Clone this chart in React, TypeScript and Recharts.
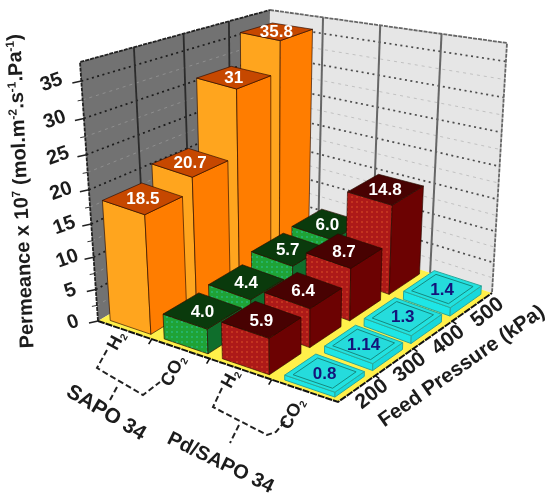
import { ScatterChart, Scatter, XAxis, YAxis } from 'recharts';

const WIDTH = 550;
const HEIGHT = 500;

const PRESSURES = [200, 300, 400, 500];
const H2_SAPO = [18.5, 20.7, 31, 35.8];
const CO2_SAPO = [4.0, 4.4, 5.7, 6.0];
const H2_PD = [5.9, 6.4, 8.7, 14.8];
const CO2_PD = [0.8, 1.14, 1.3, 1.4];
const VALUE_TICKS = [0, 5, 10, 15, 20, 25, 30, 35];
const MINOR_TICKS = [2.5, 7.5, 12.5, 17.5, 22.5, 27.5, 32.5, 37.5];
const WALL_TOP = 37.5;

const STYLES = [
  { left: '#ffa51e', right: '#ff7d00', top: '#c64800', text: '#fff', dots: 'none', digits: -1 },
  { left: '#1fa336', right: '#0f6e2c', top: '#0a3a0c', text: '#fff', dots: 'url(#dotsGreen)', digits: 1 },
  { left: '#ad1a18', right: '#6c0202', top: '#480202', text: '#fff', dots: 'url(#dotsRed)', digits: -1 },
  { left: '#1ee6e6', right: '#18d8dc', top: '#22e2e0', text: '#14147a', dots: 'none', digits: -1 },
];
const SERIES = [H2_SAPO, CO2_SAPO, H2_PD, CO2_PD];

// corners of the box: floor and top of wall
const FLOOR = { a: [98, 321], b: [338, 402], c: [492, 293], d: [268, 220] };
const ROOF = { a: [80, 62], b: [342, 150], c: [507, 43], d: [270, 10] };

const lerp = (p: number, q: number, t: number) => p + (q - p) * t;

// u: along the materials, v: along the pressures, h: value
function project(u: number, v: number, h: number): [number, number] {
  const uu = u - 0.14 * u * (1 - u);
  const k = 0.18 * (1 - uu) - 0.04 * uu;
  const vv = v + k * v * (1 - v);
  const t = h / WALL_TOP;
  const g = t / (1 + 0.114 * (1 - t));
  const corner = (key: 'a' | 'b' | 'c' | 'd', i: number) => lerp(FLOOR[key][i], ROOF[key][i], g);
  const at = (i: number) =>
    lerp(lerp(corner('a', i), corner('b', i), uu), lerp(corner('d', i), corner('c', i), uu), vv);
  return [at(0), at(1)];
}

const pts = (list: [number, number][]) => list.map((p) => p.join(',')).join(' ');

const barData = SERIES.flatMap((values, s) =>
  values.map((value, p) => {
    const [x, y] = project((s + 0.5) / 4, (p + 0.5) / 4, 0);
    return { x, y, s, p, value };
  })
).sort((m, n) => m.s - m.p - (n.s - n.p));

const tickData = VALUE_TICKS.map((value) => {
  const [x, y] = project(0, 0, value);
  return { x, y, value };
});
const pressureData = PRESSURES.map((value, p) => {
  const [x, y] = project(1, (p + 0.5) / 4, 0);
  return { x, y, value };
});
const wallData = [{ x: FLOOR.a[0], y: FLOOR.a[1] }];

function Walls() {
  const line = (fn: (i: number) => [number, number]) => pts([0, 0.25, 0.5, 0.75, 1].map(fn));
  return (
    <g>
      <polygon
        points={pts([project(0, 0, 0), project(0, 1, 0), project(0, 1, WALL_TOP), project(0, 0, WALL_TOP)])}
        fill="#727272"
      />
      <polygon
        points={pts([project(0, 1, 0), project(1, 1, 0), project(1, 1, WALL_TOP), project(0, 1, WALL_TOP)])}
        fill="#e6e6e6"
      />
      <polygon
        points={pts([project(0, 0, 0), project(1, 0, 0), project(1, 1, 0), project(0, 1, 0)])}
        fill="#fff04a"
      />
      {MINOR_TICKS.slice(0, -1).map((h) => (
        <g key={h} fill="none" strokeDasharray="3 4">
          <polyline points={line((v) => project(0, v, h))} stroke="#959595" strokeWidth={0.8} />
          <polyline points={line((u) => project(u, 1, h))} stroke="#b8b8b8" strokeWidth={0.8} />
          <line
            x1={project(0, 0, h)[0]} y1={project(0, 0, h)[1]}
            x2={project(0, 0, h)[0] - 5} y2={project(0, 0, h)[1] + 1}
            stroke="#333" strokeWidth={1} strokeDasharray="none"
          />
        </g>
      ))}
      {VALUE_TICKS.slice(1).map((h) => (
        <g key={h} fill="none" strokeDasharray="2 3.5">
          <polyline points={line((v) => project(0, v, h))} stroke="#1c1c1c" strokeWidth={1.7} />
          <polyline points={line((u) => project(u, 1, h))} stroke="#4c4c4c" strokeWidth={1.7} />
        </g>
      ))}
      {[0.25, 0.5, 0.75].map((f) => (
        <g key={f}>
          <line
            x1={project(0, f, 0)[0]} y1={project(0, f, 0)[1]}
            x2={project(0, f, WALL_TOP)[0]} y2={project(0, f, WALL_TOP)[1]}
            stroke="#2b2b2b" strokeWidth={1.8}
          />
          <line
            x1={project(f, 1, 0)[0]} y1={project(f, 1, 0)[1]}
            x2={project(f, 1, WALL_TOP)[0]} y2={project(f, 1, WALL_TOP)[1]}
            stroke="#666" strokeWidth={2}
          />
          <line
            x1={project(f, 0, 0)[0]} y1={project(f, 0, 0)[1]}
            x2={project(f, 0, 0)[0] - 3} y2={project(f, 0, 0)[1] + 5}
            stroke="#111" strokeWidth={1.6}
          />
          <line
            x1={project(1, f, 0)[0]} y1={project(1, f, 0)[1]}
            x2={project(1, f, 0)[0] + 4} y2={project(1, f, 0)[1] + 3}
            stroke="#111" strokeWidth={1.6}
          />
        </g>
      ))}
      <polyline
        points={pts([project(0, 0, 0), project(0, 0, WALL_TOP), project(0, 1, WALL_TOP)])}
        fill="none" stroke="#222" strokeWidth={1.8} strokeDasharray="4 1"
      />
      <polyline
        points={pts([project(0, 1, WALL_TOP), project(1, 1, WALL_TOP), project(1, 1, 0)])}
        fill="none" stroke="#666" strokeWidth={1.8} strokeDasharray="4 1"
      />
      <polyline
        points={pts([project(0, 0, 0), project(1, 0, 0), project(1, 1, 0)])}
        fill="none" stroke="#111" strokeWidth={2} strokeDasharray="7 1"
      />
    </g>
  );
}

function Bar3D(props: any) {
  const { s, p, value } = props.payload;
  const style = STYLES[s];
  const u0 = (s + 0.14) / 4;
  const u1 = (s + 0.9) / 4;
  const v0 = (p + 0.1) / 4;
  const v1 = (p + 0.88) / 4;
  const leftFace = [project(u0, v0, 0), project(u1, v0, 0), project(u1, v0, value), project(u0, v0, value)] as [number, number][];
  const rightFace = [project(u1, v0, 0), project(u1, v1, 0), project(u1, v1, value), project(u1, v0, value)] as [number, number][];
  const topFace = [project(u0, v0, value), project(u1, v0, value), project(u1, v1, value), project(u0, v1, value)] as [number, number][];
  const mid = project((u0 + u1) / 2, (v0 + v1) / 2, value);
  const label = style.digits > 0 ? value.toFixed(style.digits) : String(value);
  const edge = s === 3 ? '#2aa89a' : 'rgba(40,10,0,0.65)';
  const inset = s === 3
    ? [project(u0 + 0.02, v0 + 0.02, value), project(u1 - 0.02, v0 + 0.02, value), project(u1 - 0.02, v1 - 0.02, value), project(u0 + 0.02, v1 - 0.02, value)] as [number, number][]
    : null;
  return (
    <g>
      <polygon points={pts(leftFace)} fill={style.left} stroke={edge} strokeWidth={1} />
      <polygon points={pts(leftFace)} fill={style.dots} />
      <polygon points={pts(rightFace)} fill={style.right} stroke={edge} strokeWidth={1} />
      <polygon points={pts(topFace)} fill={style.top} stroke={edge} strokeWidth={1} />
      {inset && <polygon points={pts(inset)} fill="#25dcdc" stroke="#16897f" strokeWidth={1} />}
      <text
        x={mid[0]} y={mid[1] + 6} textAnchor="middle"
        fontFamily="'Liberation Sans', Arial, sans-serif" fontSize={17} fontWeight={700}
        fill={style.text}
      >
        {label}
      </text>
    </g>
  );
}

function ValueTick(props: any) {
  const { cx, cy, payload } = props;
  const x = cx - 25 - (payload.value / 35) * 5;
  return (
    <g>
      <line x1={cx} y1={cy} x2={cx - 9} y2={cy + 2} stroke="#222" strokeWidth={1.5} />
      <text
        x={x} y={cy + 7} textAnchor="middle"
        transform={`rotate(-20 ${x} ${cy + 1})`}
        fontFamily="'Liberation Sans', Arial, sans-serif" fontSize={20} fontWeight={700} fill="#1c1c1c"
      >
        {payload.value}
      </text>
    </g>
  );
}

function PressureTick(props: any) {
  const { cx, cy, payload } = props;
  const x = cx + 19;
  const y = cy + 10;
  return (
    <text
      x={x} y={y} textAnchor="middle"
      transform={`rotate(-38 ${x} ${y})`}
      fontFamily="'Liberation Sans', Arial, sans-serif" fontSize={21} fontWeight={700} fill="#1c1c1c"
    >
      {payload.value}
    </text>
  );
}

const FONT = "'Liberation Sans', Arial, sans-serif";

function Annotations() {
  const label = (x: number, y: number, angle: number, size: number, text: string) => (
    <text
      x={x} y={y} textAnchor="middle" transform={`rotate(${angle} ${x} ${y})`}
      fontFamily={FONT} fontSize={size} fontWeight={700} fill="#1c1c1c"
    >
      {text}
    </text>
  );
  const gas = (x: number, y: number, text: string) => (
    <text
      x={x} y={y} textAnchor="middle" transform={`rotate(-62 ${x} ${y})`}
      fontFamily={FONT} fontSize={18} fontWeight={700} fill="#1c1c1c"
    >
      {text}
      <tspan dy={3} fontSize={10}>2</tspan>
    </text>
  );
  return (
    <g>
      <text
        x={27} y={191} textAnchor="middle" transform="rotate(-92.4 27 191)"
        fontFamily={FONT} fontSize={20} fontWeight={700} fill="#1c1c1c"
      >
        Permeance x 10
        <tspan dy={-7} fontSize={12}>7</tspan>
        <tspan dy={7}> (mol.m</tspan>
        <tspan dy={-7} fontSize={12}>-2</tspan>
        <tspan dy={7}>.s</tspan>
        <tspan dy={-7} fontSize={12}>-1</tspan>
        <tspan dy={7}>.Pa</tspan>
        <tspan dy={-7} fontSize={12}>-1</tspan>
        <tspan dy={7}>)</tspan>
      </text>
      {gas(121, 343, 'H')}
      {gas(178, 373, 'CO')}
      {gas(235, 381, 'H')}
      {gas(297, 416, 'CO')}
      {label(103, 418, 31, 21, 'SAPO 34')}
      {label(218, 468, 26, 20, 'Pd/SAPO 34')}
      {label(465, 371, -35, 20.5, 'Feed Pressure (kPa)')}
      <g fill="none" stroke="#222" strokeWidth={2} strokeDasharray="6 3">
        <polyline points="107,350 97,368 143,395 160,382" />
        <polyline points="117,387 110,400" />
        <polyline points="222,388 213,407 267,435 276,432 286,420" />
        <polyline points="239,425 230,443" />
      </g>
    </g>
  );
}

export default function App() {
  return (
    <div style={{ position: 'absolute', left: 0, top: 0, width: WIDTH, height: HEIGHT, background: '#fff', filter: 'blur(0.45px)' }}>
      <ScatterChart width={WIDTH} height={HEIGHT} margin={{ top: 0, right: 0, bottom: 0, left: 0 }}>
        <defs>
          <pattern id="dotsRed" width="5" height="5" patternUnits="userSpaceOnUse">
            <circle cx="2" cy="2" r="0.7" fill="#e8602a" />
          </pattern>
          <pattern id="dotsGreen" width="5" height="5" patternUnits="userSpaceOnUse">
            <circle cx="2" cy="2" r="0.7" fill="#2ad0c0" />
          </pattern>
        </defs>
        <XAxis type="number" dataKey="x" domain={[0, WIDTH]} hide />
        <YAxis type="number" dataKey="y" domain={[0, HEIGHT]} reversed hide />
        <Scatter data={wallData} shape={() => <Walls />} isAnimationActive={false} />
        <Scatter data={tickData} shape={<ValueTick />} isAnimationActive={false} />
        <Scatter data={pressureData} shape={<PressureTick />} isAnimationActive={false} />
        <Scatter data={barData} shape={<Bar3D />} isAnimationActive={false} />
        <Scatter data={wallData} shape={() => <Annotations />} isAnimationActive={false} />
      </ScatterChart>
    </div>
  );
}
